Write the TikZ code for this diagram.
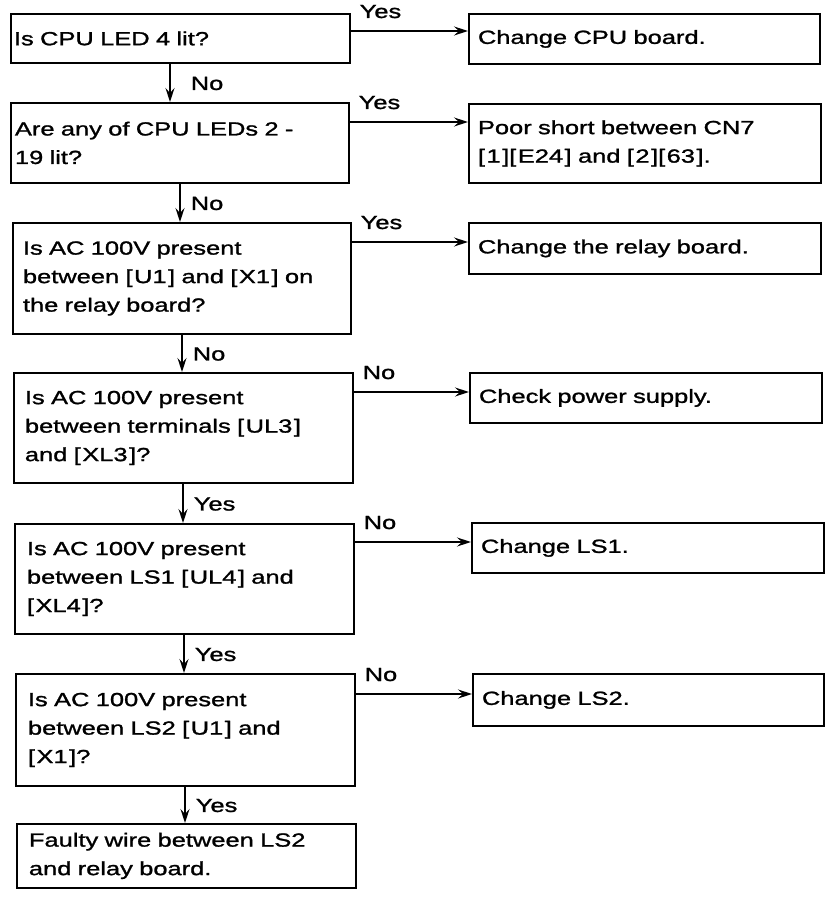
\documentclass[tikz,border=0pt]{standalone}
\usepackage{fontspec}
\setmainfont[FakeStretch=1.34,FakeBold=1.3]{Liberation Sans}
\usetikzlibrary{arrows.meta}
\newcommand\myfont{\fontsize{19}{28.5}\selectfont}
\newcommand\bk[1]{[\kern1.5pt#1\kern1.5pt]}
\begin{document}
\begin{tikzpicture}[x=1pt,y=-1pt,
  box/.style={draw, line width=1.9pt, anchor=north west, align=left, inner ysep=0pt, font=\myfont},
  arr/.style={line width=1.6pt, -{Stealth[length=14pt,width=9pt,inset=5pt]}},
  hl/.style={anchor=base west, xshift=8pt, yshift=13pt, font=\myfont, inner sep=0pt},
  vl/.style={pos=0.5, anchor=base west, yshift=-7pt, font=\myfont, inner sep=0pt}
]
\useasboundingbox (0,0) rectangle (825,909);
% left column
\node[box, minimum width=339pt, minimum height=49pt, text width=333pt, inner xsep=3pt] (L1) at (10,13) {\mbox{Is CPU LED 4 lit?}};
\node[box, minimum width=338pt, minimum height=80pt, text width=330pt, inner xsep=4pt] (L2) at (10,102) {\mbox{Are any of CPU LEDs 2 -}\\\mbox{19 lit?}};
\node[box, minimum width=338pt, minimum height=111pt, text width=318pt, inner xsep=10pt] (L3) at (12,222) {\mbox{Is AC 100V present}\\\mbox{between \bk{U1} and \bk{X1} on}\\\mbox{the relay board?}};
\node[box, minimum width=339pt, minimum height=110pt, text width=317pt, inner xsep=11pt] (L4) at (13,372) {\mbox{Is AC 100V present}\\\mbox{between terminals \bk{UL3}}\\\mbox{and \bk{XL3}?}};
\node[box, minimum width=339pt, minimum height=110pt, text width=315pt, inner xsep=12pt] (L5) at (14,523) {\mbox{Is AC 100V present}\\\mbox{between LS1 \bk{UL4} and}\\\mbox{\bk{XL4}?}};
\node[box, minimum width=339pt, minimum height=112pt, text width=315pt, inner xsep=12pt] (L6) at (15,673) {\mbox{Is AC 100V present}\\\mbox{between LS2 \bk{U1} and}\\\mbox{\bk{X1}?}};
\node[box, minimum width=339pt, minimum height=64pt, text width=315pt, inner xsep=12pt] (L7) at (16,823) {\mbox{Faulty wire between LS2}\\\mbox{and relay board.}};
% right column
\node[box, minimum width=351pt, minimum height=50pt, text width=333pt, inner xsep=9pt] (R1) at (468,13) {\mbox{Change CPU board.}};
\node[box, minimum width=352pt, minimum height=79pt, text width=334pt, inner xsep=9pt] (R2) at (468,103) {\mbox{Poor short between CN7}\\\mbox{\bk{1}\bk{E24} and \bk{2}\bk{63}.}};
\node[box, minimum width=352pt, minimum height=51pt, text width=334pt, inner xsep=9pt] (R3) at (468,222) {\mbox{Change the relay board.}};
\node[box, minimum width=352pt, minimum height=50pt, text width=334pt, inner xsep=9pt] (R4) at (469,372) {\mbox{Check power supply.}};
\node[box, minimum width=352pt, minimum height=50pt, text width=334pt, inner xsep=9pt] (R5) at (471,522) {\mbox{Change LS1.}};
\node[box, minimum width=351pt, minimum height=52pt, text width=333pt, inner xsep=9pt] (R6) at (472,673) {\mbox{Change LS2.}};
% horizontal arrows
\draw[arr] ([yshift=-18pt]L1.north east) coordinate (h1) node[hl]{Yes} -- (h1 -| R1.west);
\draw[arr] ([yshift=-20pt]L2.north east) coordinate (h2) node[hl]{Yes} -- (h2 -| R2.west);
\draw[arr] ([yshift=-20pt]L3.north east) coordinate (h3) node[hl]{Yes} -- (h3 -| R3.west);
\draw[arr] ([yshift=-20pt]L4.north east) coordinate (h4) node[hl]{No} -- (h4 -| R4.west);
\draw[arr] ([yshift=-19pt]L5.north east) coordinate (h5) node[hl]{No} -- (h5 -| R5.west);
\draw[arr] ([yshift=-21pt]L6.north east) coordinate (h6) node[hl]{No} -- (h6 -| R6.west);
% vertical arrows
\draw[arr] ([xshift=160pt]L1.south west) coordinate (v1) -- node[vl, xshift=20pt]{No} (v1 |- L2.north);
\draw[arr] ([xshift=170pt]L2.south west) coordinate (v2) -- node[vl, xshift=10pt]{No} (v2 |- L3.north);
\draw[arr] ([xshift=170pt]L3.south west) coordinate (v3) -- node[vl, xshift=10pt]{No} (v3 |- L4.north);
\draw[arr] ([xshift=170pt]L4.south west) coordinate (v4) -- node[vl, xshift=10pt]{Yes} (v4 |- L5.north);
\draw[arr] ([xshift=170pt]L5.south west) coordinate (v5) -- node[vl, xshift=10pt]{Yes} (v5 |- L6.north);
\draw[arr] ([xshift=170pt]L6.south west) coordinate (v6) -- node[vl, xshift=10pt]{Yes} (v6 |- L7.north);
\end{tikzpicture}
\end{document}
